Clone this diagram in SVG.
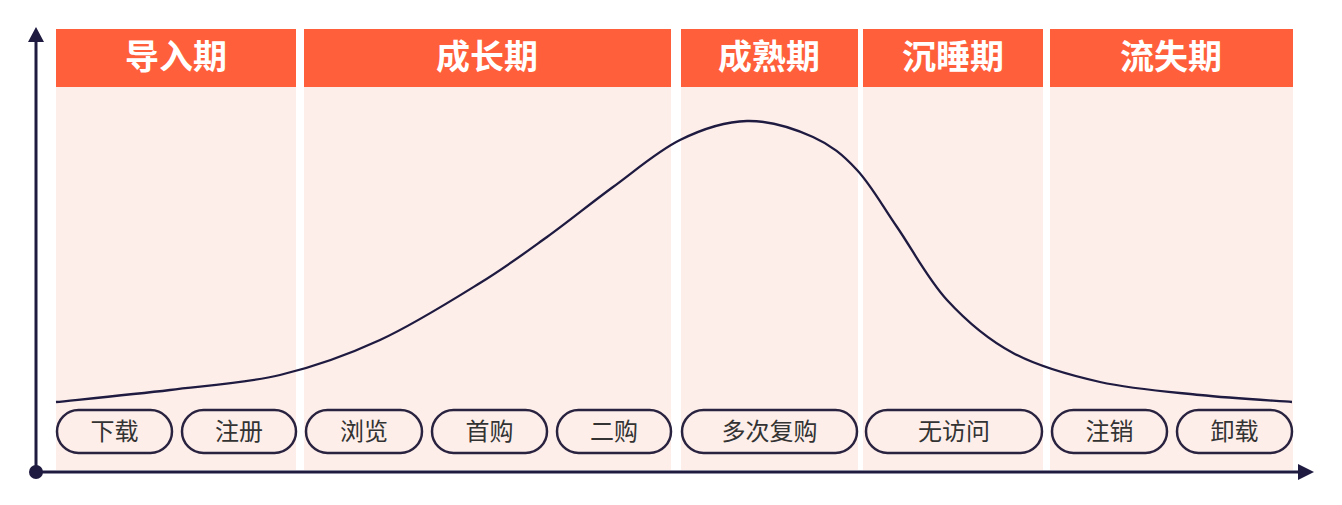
<svg xmlns="http://www.w3.org/2000/svg" width="1342" height="505" viewBox="0 0 1342 505">
<style>
.body{fill:#FDEEEA}
.head{fill:#FF5F3A}
.ht{font-family:"Noto Sans CJK SC","Noto Sans",sans-serif;font-size:34px;font-weight:bold;fill:#FFFFFF;text-anchor:middle}
.pill{fill:none;stroke:#2A2340;stroke-width:2.5}
.pt{font-family:"Noto Sans CJK SC","Noto Sans",sans-serif;font-size:24px;fill:#333333;text-anchor:middle}
.axis{stroke:#1E1A40;stroke-width:3;fill:none}
</style>
<rect width="1342" height="505" fill="#FFFFFF"/>
<g id="stage-intro">
<rect class="body" x="56" y="29" width="240" height="441"/>
<rect class="head" x="56" y="29" width="240" height="58"/>
<text class="ht" x="176" y="69">导入期</text>
</g>
<g id="stage-growth">
<rect class="body" x="304" y="29" width="367" height="441"/>
<rect class="head" x="304" y="29" width="367" height="58"/>
<text class="ht" x="487" y="69">成长期</text>
</g>
<g id="stage-mature">
<rect class="body" x="681" y="29" width="177" height="441"/>
<rect class="head" x="681" y="29" width="177" height="58"/>
<text class="ht" x="769" y="69">成熟期</text>
</g>
<g id="stage-dormant">
<rect class="body" x="863" y="29" width="180" height="441"/>
<rect class="head" x="863" y="29" width="180" height="58"/>
<text class="ht" x="953" y="69">沉睡期</text>
</g>
<g id="stage-churn">
<rect class="body" x="1050" y="29" width="243" height="441"/>
<rect class="head" x="1050" y="29" width="243" height="58"/>
<text class="ht" x="1171" y="69">流失期</text>
</g>
<g id="connectors">
<path class="axis" d="M36,472 V40"/>
<polygon points="36,27 28,42 44,42" fill="#1E1A40"/>
<path class="axis" d="M36,472 H1300"/>
<polygon points="1314,472 1298,464 1298,480" fill="#1E1A40"/>
<circle cx="36" cy="472" r="7" fill="#1E1A40"/>
<path d="M56,402 C75,400 132.7,394.5 170,390 C207.3,385.5 245,383.3 280,375 C315,366.7 346.7,355.3 380,340 C413.3,324.7 452.2,300.2 480,283 C507.8,265.8 524.8,253 547,237 C569.2,221 590.8,203.2 613,187 C635.2,170.8 657.7,151 680,140 C702.3,129 724.8,121.5 747,121 C769.2,120.5 794.7,128.8 813,137 C831.3,145.2 843,155 857,170 C871,185 882,205.3 897,227 C912,248.7 927.7,279 947,300 C966.3,321 987.5,339.3 1013,353 C1038.5,366.7 1068.8,375 1100,382 C1131.2,389 1168,391.7 1200,395 C1232,398.3 1276.7,400.8 1292,402" fill="none" stroke="#1E1A40" stroke-width="2.3"/>
</g>
<g id="pill-download"><rect class="pill" x="57" y="410" width="115" height="43" rx="21.5"/><text class="pt" x="114.5" y="440">下载</text></g>
<g id="pill-register"><rect class="pill" x="182" y="410" width="114" height="43" rx="21.5"/><text class="pt" x="239" y="440">注册</text></g>
<g id="pill-browse"><rect class="pill" x="306" y="410" width="116" height="43" rx="21.5"/><text class="pt" x="364" y="440">浏览</text></g>
<g id="pill-first"><rect class="pill" x="432" y="410" width="115" height="43" rx="21.5"/><text class="pt" x="489.5" y="440">首购</text></g>
<g id="pill-second"><rect class="pill" x="557" y="410" width="114" height="43" rx="21.5"/><text class="pt" x="614" y="440">二购</text></g>
<g id="pill-repeat"><rect class="pill" x="682" y="410" width="175" height="43" rx="21.5"/><text class="pt" x="769.5" y="440">多次复购</text></g>
<g id="pill-novisit"><rect class="pill" x="866" y="410" width="176" height="43" rx="21.5"/><text class="pt" x="954" y="440">无访问</text></g>
<g id="pill-cancel"><rect class="pill" x="1052" y="410" width="115" height="43" rx="21.5"/><text class="pt" x="1109.5" y="440">注销</text></g>
<g id="pill-uninstall"><rect class="pill" x="1177" y="410" width="115" height="43" rx="21.5"/><text class="pt" x="1234.5" y="440">卸载</text></g>
</svg>
